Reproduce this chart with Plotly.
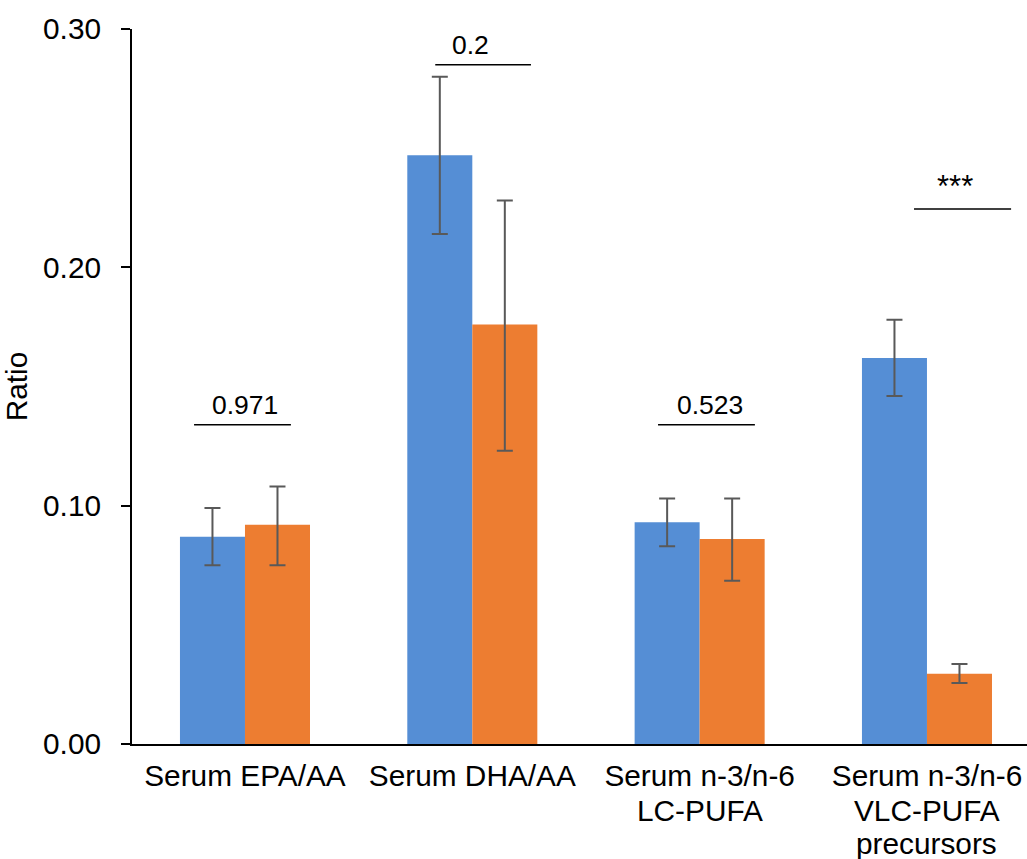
import plotly.graph_objects as go

categories = ["Serum EPA/AA", "Serum DHA/AA", "Serum n-3/n-6", "Serum n-3/n-6"]
category_extra_lines = [[], [], ["LC-PUFA"], ["VLC-PUFA", "precursors"]]
blue_vals = [0.087, 0.247, 0.093, 0.162]
blue_err_hi = [0.099, 0.280, 0.103, 0.178]
blue_err_lo = [0.075, 0.214, 0.083, 0.146]
orange_vals = [0.092, 0.176, 0.086, 0.0295]
orange_err_hi = [0.108, 0.228, 0.103, 0.0336]
orange_err_lo = [0.075, 0.123, 0.0685, 0.0256]
p_labels = ["0.971", "0.2", "0.523", "***"]
p_font_sizes = [26.5, 26.5, 26.5, 31]
p_line_y = [0.134, 0.285, 0.134, 0.2245]
p_line_x0 = [-0.224, 0.837, 1.817, 2.943]
p_line_x1 = [0.202, 1.258, 2.243, 3.370]
p_text_x = [0.002, 0.994, 2.045, 3.123]
y_ticks = [0.0, 0.1, 0.2, 0.3]
y_tick_labels = ["0.00", "0.10", "0.20", "0.30"]

xpos = list(range(len(categories)))
BLUE = "#558ED5"
ORANGE = "#ED7D31"
ERR = "#595959"
FONT = "Liberation Sans, Arial, sans-serif"
FS = 29.8
LINE_STEP = 33

fig = go.Figure()
fig.add_trace(go.Bar(
    x=xpos, y=blue_vals, marker=dict(color=BLUE, line=dict(width=0)),
    error_y=dict(type="data", symmetric=False,
                 array=[h - v for h, v in zip(blue_err_hi, blue_vals)],
                 arrayminus=[v - l for l, v in zip(blue_err_lo, blue_vals)],
                 color=ERR, thickness=2, width=8),
    showlegend=False))
fig.add_trace(go.Bar(
    x=xpos, y=orange_vals, marker=dict(color=ORANGE, line=dict(width=0)),
    error_y=dict(type="data", symmetric=False,
                 array=[h - v for h, v in zip(orange_err_hi, orange_vals)],
                 arrayminus=[v - l for l, v in zip(orange_err_lo, orange_vals)],
                 color=ERR, thickness=2, width=8),
    showlegend=False))

for i, lab in enumerate(p_labels):
    fig.add_shape(type="line", xref="x", yref="y",
                  x0=p_line_x0[i], x1=p_line_x1[i], y0=p_line_y[i], y1=p_line_y[i],
                  line=dict(color="black", width=1.5))
    fig.add_annotation(x=p_text_x[i], y=p_line_y[i], xref="x", yref="y",
                       text=lab, showarrow=False, yanchor="bottom", yshift=3,
                       font=dict(family=FONT, size=p_font_sizes[i], color="black"))

# continuation lines of the wrapped category labels
for i, extra in enumerate(category_extra_lines):
    for j, line in enumerate(extra):
        fig.add_annotation(x=xpos[i], y=0, xref="x", yref="paper",
                           text=line, showarrow=False, yanchor="top",
                           yshift=-(15 + LINE_STEP * (j + 1)),
                           font=dict(family=FONT, size=FS, color="black"))

fig.update_layout(
    width=1027, height=859,
    margin=dict(l=132, r=0, t=29, b=115, pad=0),
    plot_bgcolor="white", paper_bgcolor="white",
    barmode="group", bargap=0.428, bargroupgap=0,
    font=dict(family=FONT, size=FS, color="black"),
    xaxis=dict(range=[-0.497, 3.44], tickmode="array", tickvals=xpos,
               ticktext=categories, showline=True, linecolor="black", linewidth=2,
               ticks="", showgrid=False, zeroline=False, ticklabelstandoff=4,
               automargin=False,
               tickfont=dict(family=FONT, size=FS, color="black")),
    yaxis=dict(range=[0, 0.30], tickmode="array", tickvals=y_ticks,
               ticktext=y_tick_labels, showline=True, linecolor="black", linewidth=2,
               ticks="outside", ticklen=9, tickwidth=2, tickcolor="black",
               showgrid=False, zeroline=False, ticklabelstandoff=14,
               automargin=False,
               tickfont=dict(family=FONT, size=FS, color="black"),
               title=dict(text="Ratio", standoff=10,
                          font=dict(family=FONT, size=FS, color="black"))),
)

fig.write_html("out.html")
